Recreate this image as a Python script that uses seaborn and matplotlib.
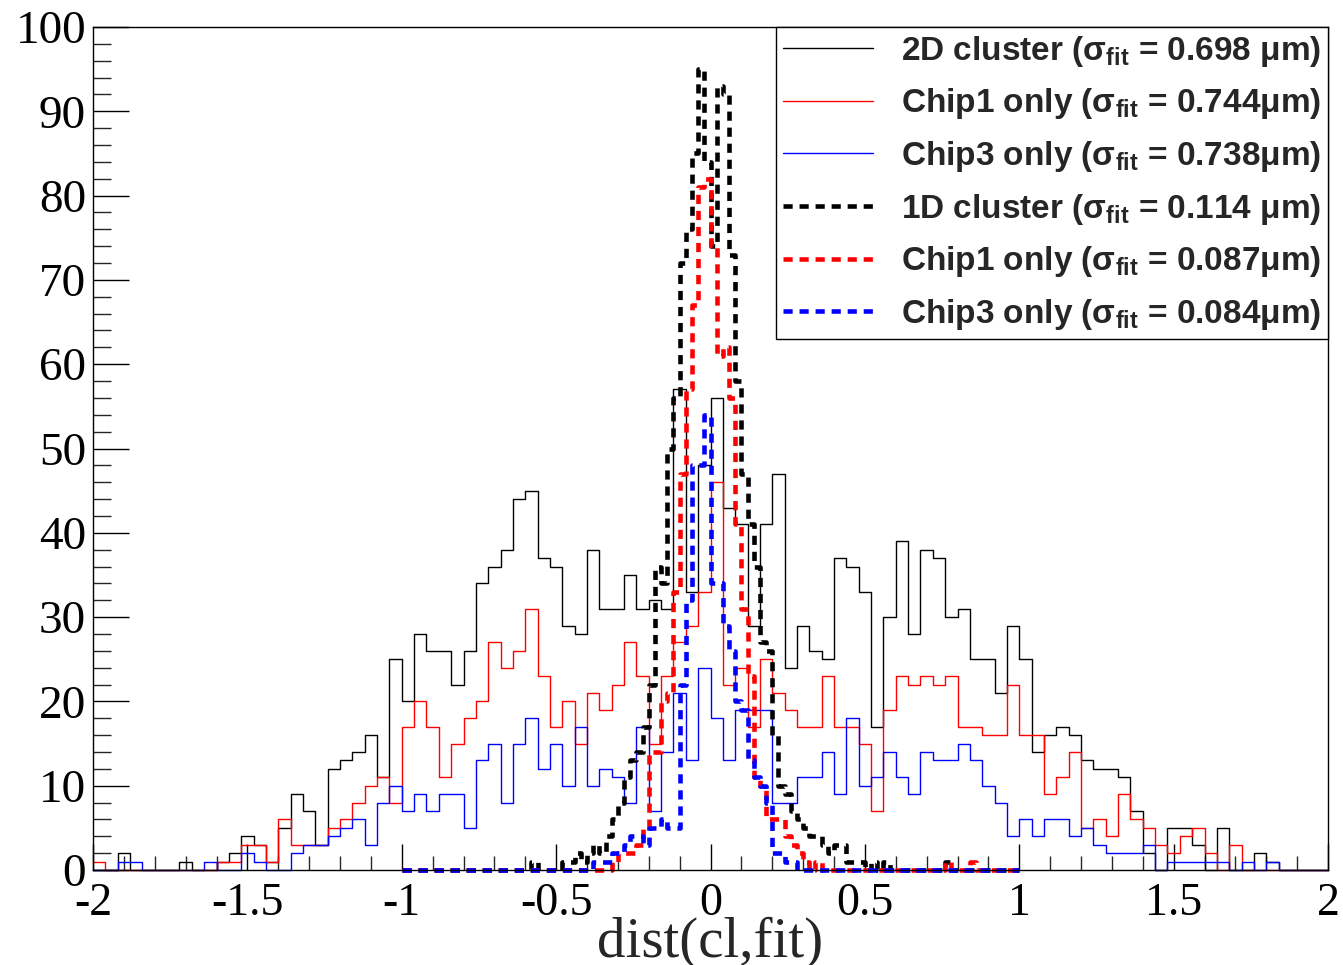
import numpy as np
import pandas as pd
import matplotlib
matplotlib.use("Agg")
import matplotlib.pyplot as plt
import seaborn as sns
from matplotlib.lines import Line2D
from matplotlib.ticker import FixedLocator, FixedFormatter, MultipleLocator
from matplotlib.font_manager import FontProperties

# ---------------- data ----------------
range_2d = (-2.0, 2.0)
range_1d = (-1.0, 1.0)
n_bins = 100

cl2d_counts = [
    0, 0, 2, 0, 0, 0, 0, 1, 0, 0,
    1, 2, 4, 3, 1, 5, 9, 7, 3, 12,
    13, 14, 16, 11, 25, 20, 28, 26, 26, 22,
    26, 34, 36, 38, 44, 45, 37, 36, 29, 28,
    38, 31, 31, 35, 31, 32, 31, 57, 33, 48,
    56, 43, 41, 29, 41, 47, 24, 29, 26, 25,
    37, 36, 33, 17, 30, 39, 28, 38, 37, 30,
    31, 25, 25, 21, 29, 25, 14, 16, 17, 16,
    13, 12, 12, 11, 7, 2, 0, 5, 5, 3,
    0, 5, 0, 0, 2, 1, 0, 0, 0, 0,
]
chip1_2d_counts = [
    1, 0, 0, 0, 0, 0, 0, 0, 0, 0,
    1, 1, 3, 3, 1, 6, 3, 3, 3, 5,
    6, 8, 10, 11, 8, 17, 20, 17, 11, 15,
    18, 20, 27, 24, 26, 31, 23, 17, 20, 15,
    21, 19, 22, 27, 23, 15, 23, 27, 29, 33,
    46, 22, 24, 17, 25, 21, 19, 17, 17, 23,
    17, 17, 15, 7, 19, 23, 22, 23, 22, 23,
    17, 17, 16, 16, 22, 16, 16, 9, 11, 14,
    5, 6, 4, 9, 6, 5, 3, 2, 4, 5,
    2, 0, 3, 0, 0, 0, 0, 0, 0, 0,
]
chip3_2d_counts = [
    0, 0, 1, 1, 0, 0, 0, 0, 0, 1,
    0, 0, 2, 1, 0, 0, 2, 3, 3, 4,
    5, 6, 3, 8, 10, 7, 9, 7, 9, 9,
    5, 13, 15, 8, 15, 18, 12, 15, 10, 17,
    10, 12, 11, 8, 17, 7, 14, 21, 13, 24,
    18, 13, 19, 19, 19, 8, 8, 11, 11, 14,
    9, 18, 10, 11, 14, 11, 9, 14, 13, 13,
    15, 13, 10, 8, 4, 6, 4, 6, 6, 4,
    5, 3, 2, 2, 2, 3, 0, 1, 1, 1,
    1, 1, 0, 1, 0, 1, 0, 0, 0, 0,
]
cl1d_counts = [
    0, 0, 0, 0, 0, 0, 0, 0, 0, 0,
    0, 0, 0, 0, 0, 0, 0, 0, 0, 0,
    0, 1, 0, 0, 0, 0, 1, 1, 2, 1,
    2, 3, 2, 4, 6, 8, 11, 13, 14, 17,
    22, 36, 34, 50, 56, 72, 76, 85, 95, 84,
    74, 93, 92, 73, 58, 47, 41, 36, 27, 26,
    16, 10, 9, 7, 6, 5, 4, 4, 3, 2,
    3, 3, 1, 1, 1, 0, 1, 0, 1, 0,
    0, 0, 0, 0, 0, 0, 0, 0, 1, 0,
    0, 0, 0, 0, 0, 0, 0, 0, 0, 0,
]
chip1_1d_counts = [
    0, 0, 0, 0, 0, 0, 0, 0, 0, 0,
    0, 0, 0, 0, 0, 0, 0, 0, 0, 0,
    0, 0, 0, 0, 0, 0, 0, 0, 0, 0,
    0, 0, 0, 0, 1, 2, 2, 2, 3, 5,
    14, 14, 20, 21, 33, 47, 57, 67, 81, 82,
    74, 61, 62, 56, 41, 31, 23, 11, 10, 6,
    6, 6, 4, 3, 2, 1, 0, 1, 0, 0,
    0, 0, 0, 0, 0, 0, 0, 0, 0, 0,
    0, 0, 0, 0, 0, 0, 0, 0, 1, 0,
    0, 0, 1, 0, 0, 0, 0, 0, 0, 0,
]
chip3_1d_counts = [
    0, 0, 0, 0, 0, 0, 0, 0, 0, 0,
    0, 0, 0, 0, 0, 0, 0, 0, 0, 0,
    0, 0, 0, 0, 0, 0, 0, 0, 0, 0,
    0, 1, 1, 1, 2, 2, 3, 4, 4, 3,
    5, 5, 6, 5, 5, 22, 32, 48, 48, 54,
    34, 34, 29, 26, 20, 19, 13, 11, 10, 8,
    2, 2, 1, 1, 0, 0, 0, 0, 0, 0,
    0, 0, 0, 0, 0, 0, 0, 0, 0, 0,
    0, 0, 0, 0, 0, 0, 0, 0, 0, 0,
    0, 0, 0, 0, 0, 0, 0, 0, 0, 0,
]

legend_labels = [
    r"2D cluster (σ$_{\mathrm{fit}}$ = 0.698 μm)",
    r"Chip1 only (σ$_{\mathrm{fit}}$ = 0.744μm)",
    r"Chip3 only (σ$_{\mathrm{fit}}$ = 0.738μm)",
    r"1D cluster (σ$_{\mathrm{fit}}$ = 0.114 μm)",
    r"Chip1 only (σ$_{\mathrm{fit}}$ = 0.087μm)",
    r"Chip3 only (σ$_{\mathrm{fit}}$ = 0.084μm)",
]
x_ticks = [-2, -1.5, -1, -0.5, 0, 0.5, 1, 1.5, 2]
x_tick_labels = ["-2", "-1.5", "-1", "-0.5", "0", "0.5", "1", "1.5", "2"]
y_ticks = [0, 10, 20, 30, 40, 50, 60, 70, 80, 90, 100]
y_tick_labels = ["0", "10", "20", "30", "40", "50", "60", "70", "80", "90", "100"]
x_label = "dist(cl,fit)"

# ---------------- style ----------------
sns.set_style("white")
plt.rcParams.update({
    "font.family": ["Liberation Serif", "DejaVu Serif"],
    "axes.unicode_minus": False,
    "mathtext.fontset": "custom",
    "mathtext.rm": "Liberation Sans:bold",
    "mathtext.it": "Liberation Sans:bold",
    "mathtext.bf": "Liberation Sans:bold",
    "axes.linewidth": 1.0,
    "axes.edgecolor": "black",
})

fig = plt.figure(figsize=(13.43, 9.65), dpi=100)
ax = fig.add_axes([93 / 1343, 95 / 965, 1235 / 1343, 843 / 965])

def bin_centers(rng):
    e = np.linspace(rng[0], rng[1], n_bins + 1)
    return 0.5 * (e[:-1] + e[1:])

solid_lw = 1.0
dash_lw = 3.3
dash_pat = (2.0, 1.5)

series = [
    (range_2d, cl2d_counts, "black", "solid"),
    (range_2d, chip1_2d_counts, "#ff0000", "solid"),
    (range_2d, chip3_2d_counts, "#0000ff", "solid"),
    (range_1d, cl1d_counts, "black", "dash"),
    (range_1d, chip1_1d_counts, "#ff0000", "dash"),
    (range_1d, chip3_1d_counts, "#0000ff", "dash"),
]

handles = []
for rng, w, col, kind in series:
    df = pd.DataFrame({"x": bin_centers(rng), "w": np.asarray(w, dtype=float)})
    kw = dict(data=df, x="x", weights="w", bins=n_bins, binrange=rng,
              element="step", fill=False, color=col, ax=ax, clip_on=False)
    if kind == "solid":
        sns.histplot(linewidth=solid_lw, **kw)
        handles.append(Line2D([], [], color=col, linewidth=solid_lw))
    else:
        sns.histplot(linewidth=dash_lw, linestyle=(0, dash_pat), **kw)
        handles.append(Line2D([], [], color=col, linewidth=dash_lw,
                              linestyle=(0, dash_pat)))

ax.set_xlim(-2, 2)
ax.set_ylim(0, 100)
ax.set_ylabel("")

ax.xaxis.set_major_locator(FixedLocator(x_ticks))
ax.xaxis.set_major_formatter(FixedFormatter(x_tick_labels))
ax.xaxis.set_minor_locator(MultipleLocator(0.1))
ax.yaxis.set_major_locator(FixedLocator(y_ticks))
ax.yaxis.set_major_formatter(FixedFormatter(y_tick_labels))
ax.yaxis.set_minor_locator(MultipleLocator(2))

ax.tick_params(axis="x", which="major", direction="in", length=19, width=1.0,
               labelsize=33, pad=9, top=False, bottom=True, colors="black")
ax.tick_params(axis="x", which="minor", direction="in", length=10, width=1.0,
               top=False, bottom=True)
ax.tick_params(axis="y", which="major", direction="in", length=26, width=1.0,
               labelsize=34, pad=5, left=True, right=False, colors="black")
ax.tick_params(axis="y", which="minor", direction="in", length=13, width=1.0,
               left=True, right=False)
for lbl in ax.get_yticklabels():
    lbl.set_verticalalignment("center_baseline")

ax.set_xlabel(x_label, fontsize=41, family="Liberation Serif")
ax.xaxis.set_label_coords(0.5, -0.055)

for s in ax.spines.values():
    s.set_visible(True)
    s.set_color("black")
    s.set_linewidth(1.0)

leg = ax.legend(handles, legend_labels, loc="upper right",
                bbox_to_anchor=(1.0, 1.0), borderaxespad=0.0,
                frameon=True, fancybox=False, framealpha=1.0,
                edgecolor="black",
                prop=FontProperties(family="Liberation Sans", weight="bold", size=24),
                handlelength=2.7, handletextpad=0.85, labelspacing=0.53,
                borderpad=0.2)
leg.get_frame().set_linewidth(1.0)

fig.savefig("out.png", dpi=100)
